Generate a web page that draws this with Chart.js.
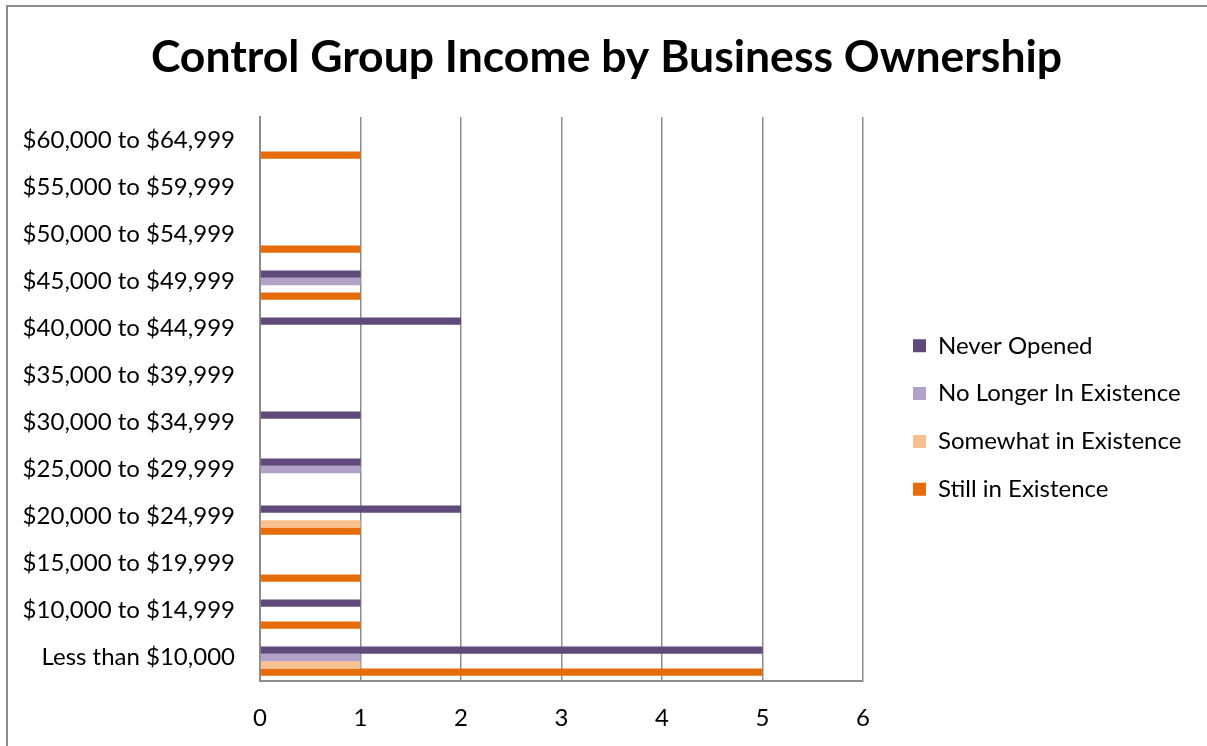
<!DOCTYPE html>
<html>
<head>
<meta charset="utf-8">
<title>Control Group Income by Business Ownership</title>
<script src="https://cdn.jsdelivr.net/npm/chart.js@4.4.1/dist/chart.umd.min.js"></script>
<style>
    html, body { margin: 0; padding: 0; background: #fff; overflow: hidden; }
    #wrap { position: absolute; left: 6px; top: 5px; width: 1201px; height: 825px; }
</style>
</head>
<body>
<div id="wrap"><canvas id="incomeChart"></canvas></div>
<script>
const INCOME_BANDS = [
    'Less than $10,000',
    '$10,000 to $14,999',
    '$15,000 to $19,999',
    '$20,000 to $24,999',
    '$25,000 to $29,999',
    '$30,000 to $34,999',
    '$35,000 to $39,999',
    '$40,000 to $44,999',
    '$45,000 to $49,999',
    '$50,000 to $54,999',
    '$55,000 to $59,999',
    '$60,000 to $64,999'
]

const SERIES_NAMES = ['Never Opened', 'No Longer In Existence', 'Somewhat in Existence', 'Still in Existence']
const SERIES_COLORS = ['#604a7b', '#b3a2c7', '#fac090', '#e46c0a']

const NEVER_OPENED = [5, 1, 0, 2, 1, 1, 0, 2, 1, 0, 0, 0]
const NO_LONGER = [1, 0, 0, 0, 1, 0, 0, 0, 1, 0, 0, 0]
const SOMEWHAT = [1, 0, 0, 1, 0, 0, 0, 0, 0, 0, 0, 0]
const STILL = [5, 1, 1, 1, 0, 0, 0, 0, 1, 1, 0, 1]

const X_TICKS = [0, 1, 2, 3, 4, 5, 6]

window.onload = function () {
    const FONT = 'Lato'
    const TEXT = '#000'
    const GRID = '#8c8c8c'
    const legendSize = 24
    const legendGap = 23.8

    // Excel leaves an empty slot above each group, an empty series reproduces that
    const spacer = INCOME_BANDS.map(() => null)
    const values = [NEVER_OPENED, NO_LONGER, SOMEWHAT, STILL]

    const datasets = [{ label: '', data: spacer, backgroundColor: 'rgba(0,0,0,0)' }]
    values.forEach((data, i) => {
        datasets.push({
            label: SERIES_NAMES[i],
            data: data,
            backgroundColor: SERIES_COLORS[i],
            borderWidth: 0
        })
    })

    // legend width so the title stays centred on the whole frame
    const m = document.createElement('canvas').getContext('2d')
    m.font = legendSize + 'px ' + FONT
    const textW = Math.max(...SERIES_NAMES.map(n => m.measureText(n).width))
    const legendLeft = 907 - legendGap
    const legendW = legendGap + 13 + legendSize / 2 + textW + 10
    const side = Math.max(0, 1201 - legendLeft - legendW)

    // chart frame: only its top and left edges are in view
    const framePlugin = {
        id: 'frame',
        beforeDraw(chart) {
            const c = chart.ctx
            c.save()
            c.fillStyle = GRID
            c.fillRect(0, 0, chart.width, 2)
            c.fillRect(0, 0, 2, chart.height)
            c.restore()
        }
    }

    const ctx = document.getElementById('incomeChart')
    new Chart(ctx, {
        type: 'bar',
        data: { labels: INCOME_BANDS, datasets: datasets },
        plugins: [framePlugin],
        options: {
            indexAxis: 'y',
            responsive: true,
            maintainAspectRatio: false,
            animation: false,
            categoryPercentage: 0.78,
            barPercentage: 1.0,
            layout: { padding: { left: side, right: side, top: 0, bottom: 0 } },
            scales: {
                x: {
                    min: 0,
                    max: 6,
                    afterBuildTicks: (s) => { s.ticks = X_TICKS.map(v => ({ value: v })) },
                    afterFit: (s) => { s.height = 149 },
                    grid: { color: GRID, lineWidth: 1.5, drawTicks: false },
                    border: { display: true, color: GRID, width: 2 },
                    ticks: { color: TEXT, padding: 23, font: { family: FONT, size: 24 } }
                },
                y: {
                    reverse: true,
                    afterFit: (s) => { s.width = 254 - side },
                    grid: { display: false, drawTicks: false },
                    border: { display: true, color: GRID, width: 2 },
                    ticks: { color: TEXT, padding: 25, font: { family: FONT, size: 24 } }
                },
                gap: {
                    type: 'linear',
                    position: 'right',
                    afterFit: (s) => { s.width = legendLeft - 857 },
                    grid: { display: false, drawTicks: false },
                    border: { display: false },
                    ticks: { display: false }
                }
            },
            plugins: {
                title: {
                    display: true,
                    text: 'Control Group Income by Business Ownership',
                    color: TEXT,
                    font: { family: FONT, size: 44.5, weight: 'bold' },
                    padding: { top: 26.3, bottom: 32.3 }
                },
                legend: {
                    position: 'right',
                    maxWidth: 400,
                    labels: {
                        color: TEXT,
                        boxWidth: 13,
                        boxHeight: 13,
                        padding: legendGap,
                        font: { family: FONT, size: legendSize },
                        filter: (item) => item.text !== ''
                    }
                },
                tooltip: { enabled: false }
            }
        }
    })
}
</script>
</body>
</html>
